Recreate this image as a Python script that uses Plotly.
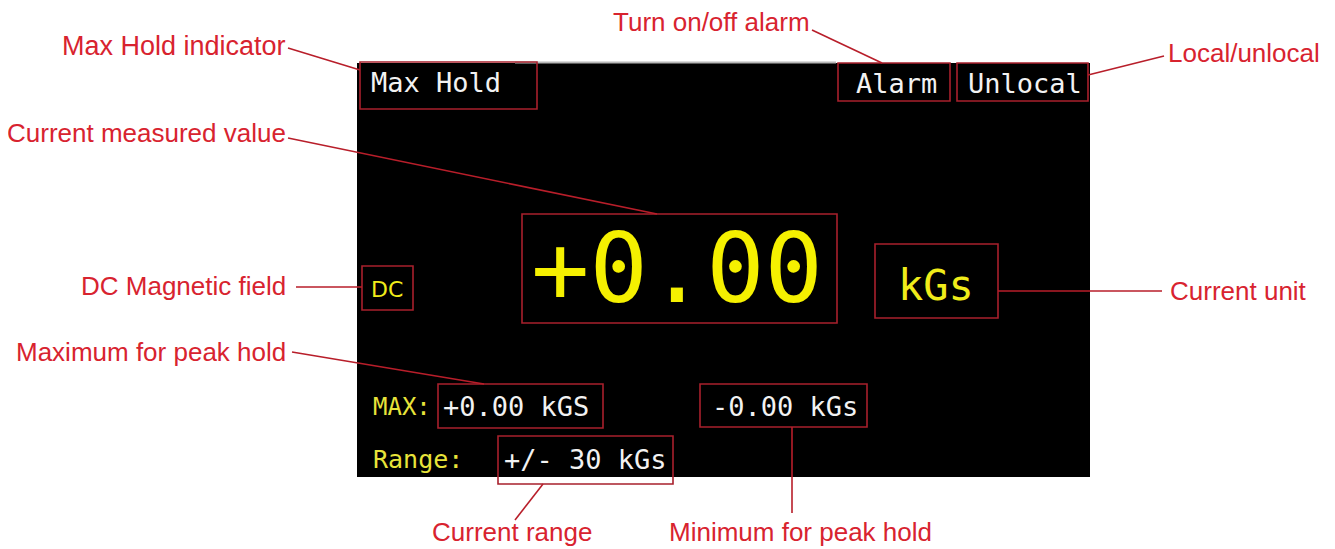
import plotly.graph_objects as go

# ---- text content (data) ----
screen_texts = ["Max Hold", "Alarm", "Unlocal", "+0.00", "kGs", "DC",
                "MAX:", "+0.00 kGS", "-0.00 kGs", "Range:", "+/- 30 kGs"]
callout_texts = ["Max Hold indicator", "Turn on/off alarm", "Local/unlocal",
                 "Current measured value", "DC Magnetic field", "Current unit",
                 "Maximum for peak hold", "Current range", "Minimum for peak hold"]

# ---- layout geometry (pixel space of the 1335x549 canvas) ----
W, H = 1335, 549
PAD = 8  # page body margin
screen_rect = (357, 63, 1090, 477)

# x, y(center), anchor, size, color, family
screen_pos = [
    (369, 82, "left", 27, "#f2f2f2", "DejaVu Sans Mono"),
    (854, 83, "left", 27, "#f2f2f2", "DejaVu Sans Mono"),
    (966, 83, "left", 27, "#f2f2f2", "DejaVu Sans Mono"),
    (677, 268, "center", 97, "#f5f000", "DejaVu Sans Mono"),
    (936, 285, "center", 42, "#f0ec1a", "DejaVu Sans Mono"),
    (387, 289, "center", 22, "#f0ec1a", "DejaVu Sans"),
    (371, 407, "left", 24, "#e8e43a", "DejaVu Sans Mono"),
    (441, 406, "left", 27, "#f2f2f2", "DejaVu Sans Mono"),
    (710, 406, "left", 27, "#f2f2f2", "DejaVu Sans Mono"),
    (371, 459, "left", 25, "#e8e43a", "DejaVu Sans Mono"),
    (502, 459, "left", 27, "#f2f2f2", "DejaVu Sans Mono"),
]
boxes = [
    (360, 62, 537, 109), (838, 63, 950, 101), (957, 63, 1088, 101),
    (522, 214, 837, 323), (875, 244, 998, 318), (362, 266, 413, 310),
    (438, 384, 603, 428), (700, 384, 867, 427), (498, 436, 673, 484),
]
# callout label position: x, y(center), anchor, size
callout_pos = [
    (288, 46, "right", 27), (711, 22, "center", 26), (1166, 53, "left", 26),
    (288, 133, "right", 26), (288, 286, "right", 26), (1168, 291, "left", 26),
    (288, 352, "right", 26), (512, 532, "center", 26), (800, 532, "center", 26),
]
leader_lines = [
    (288, 48, 360, 70), (812, 30, 882, 63), (1164, 56, 1088, 75),
    (288, 138, 657, 214), (296, 287, 362, 287), (998, 291, 1162, 291),
    (292, 352, 484, 384), (543, 484, 515, 520), (792, 427, 792, 513),
]

RED_TXT = "#d8232f"
RED_LINE = "#b81e2a"
BOX = "#a8202c"

fig = go.Figure()
fig.add_trace(go.Scatter(x=[PAD, W], y=[PAD, H], mode="markers",
                         marker=dict(opacity=0), hoverinfo="skip", showlegend=False))

shapes = []
x0, y0, x1, y1 = screen_rect
shapes.append(dict(type="rect", xref="x", yref="y", x0=x0, y0=y0, x1=x1, y1=y1,
                   fillcolor="black", line=dict(width=0), layer="below"))
shapes.append(dict(type="line", xref="x", yref="y", x0=515, y0=62.5, x1=836, y1=62.5,
                   line=dict(color="#b8b8b8", width=2)))
for (a, b, c, d) in boxes:
    shapes.append(dict(type="rect", xref="x", yref="y", x0=a, y0=b, x1=c, y1=d,
                       line=dict(color=BOX, width=1.6), fillcolor="rgba(0,0,0,0)"))
for (a, b, c, d) in leader_lines:
    shapes.append(dict(type="line", xref="x", yref="y", x0=a, y0=b, x1=c, y1=d,
                       line=dict(color=RED_LINE, width=1.6)))

annotations = []
for t, (x, y, anc, sz, col, fam) in zip(screen_texts, screen_pos):
    annotations.append(dict(x=x, y=y, xref="x", yref="y", text=t, showarrow=False,
                            xanchor=anc, yanchor="middle",
                            font=dict(family=fam, size=sz, color=col)))
for t, (x, y, anc, sz) in zip(callout_texts, callout_pos):
    annotations.append(dict(x=x, y=y, xref="x", yref="y", text=t, showarrow=False,
                            xanchor=anc, yanchor="middle",
                            font=dict(family="Liberation Sans, Arial", size=sz, color=RED_TXT)))

fig.update_layout(
    width=W - PAD, height=H - PAD, margin=dict(l=0, r=0, t=0, b=0),
    paper_bgcolor="white", plot_bgcolor="white",
    xaxis=dict(range=[PAD, W], visible=False, fixedrange=True),
    yaxis=dict(range=[H, PAD], visible=False, fixedrange=True),
    shapes=shapes, annotations=annotations, showlegend=False,
)
fig.write_html("out.html", config={"displayModeBar": False})
